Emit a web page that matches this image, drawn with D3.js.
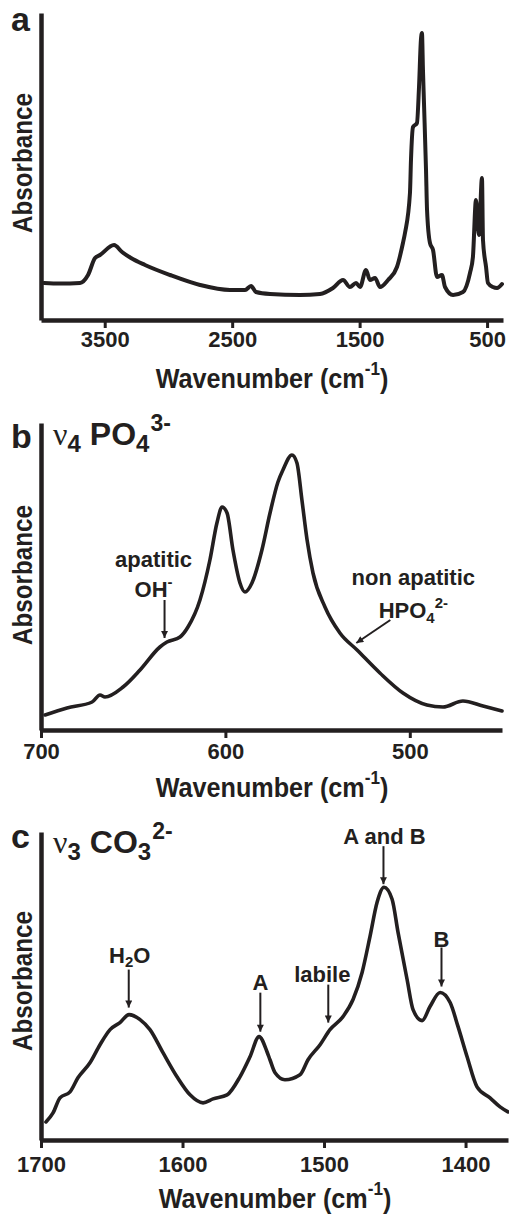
<!DOCTYPE html>
<html>
<head>
<meta charset="utf-8">
<script src="https://cdn.jsdelivr.net/npm/d3@7"></script>
<style>
  body { margin: 0; background: #fff; }
  text { font-family: Arial, "Liberation Sans", Helvetica, sans-serif; font-weight: bold; fill: #231f20; }
</style>
</head>
<body>
<svg id="chart" width="509" height="1214"></svg>
<script>
// ---- data ----
// (a) full spectrum
const wnA = [3976, 3851, 3694, 3631, 3576, 3537, 3427, 3364, 3294, 3184, 2988, 2752, 2517, 2399, 2352,
  2313, 2203, 1968, 1811, 1709, 1630, 1576, 1528, 1497, 1450, 1419, 1379, 1340, 1277, 1207,
  1160, 1144, 1105, 1097, 1081, 1050, 1034, 1019, 1011, 1003, 995, 979, 971, 948, 924,
  893, 854, 830, 767, 689, 634, 611, 587, 564, 540, 532, 508, 493, 454, 422, 383];
const absA = [0.37, 0.365, 0.37, 0.45, 0.62, 0.65, 0.75, 0.68, 0.62, 0.55, 0.45, 0.35, 0.30, 0.30, 0.34,
  0.28, 0.26, 0.25, 0.26, 0.32, 0.40, 0.33, 0.37, 0.33, 0.50, 0.40, 0.42, 0.33, 0.40, 0.53,
  0.77, 0.87, 1.27, 1.60, 1.93, 1.97, 2.33, 2.80, 2.87, 2.50, 2.17, 1.50, 1.10, 0.77, 0.70,
  0.43, 0.45, 0.33, 0.25, 0.28, 0.47, 0.63, 1.20, 0.85, 1.42, 0.80, 0.53, 0.37, 0.33, 0.32, 0.36];
const ticksA = [3500, 2500, 1500, 500];

// (b) v4 PO4 region
const wnB = [697.8, 685.9, 672.3, 668.0, 665.3, 655.5, 646.3, 635.5, 631.7, 624.6, 620.3, 613.8, 608.4,
  604.6, 601.8, 599.1, 595.9, 592.1, 589.4, 585.6, 580.2, 575.8, 571.5, 568.8, 563.9, 561.2,
  558.5, 555.7, 552.5, 546.0, 537.9, 528.6, 516.2, 503.7, 490.7, 482.0, 471.2, 460.3, 450.0];
const absB = [0.15, 0.22, 0.28, 0.35, 0.33, 0.43, 0.60, 0.83, 0.88, 0.93, 1.03, 1.30, 1.70,
  2.07, 2.23, 2.17, 1.80, 1.47, 1.38, 1.47, 1.80, 2.17, 2.48, 2.60, 2.75, 2.67,
  2.30, 1.90, 1.57, 1.23, 0.97, 0.80, 0.57, 0.37, 0.25, 0.23, 0.29, 0.24, 0.19];
const ticksB = [700, 600, 500];

// (c) v3 CO3 region
const wnC = [1696.5, 1691.5, 1686.6, 1679.5, 1673.9, 1665.4, 1658.3, 1651.2, 1644.2, 1637.8,
  1630.0, 1623.0, 1613.8, 1603.9, 1594.7, 1585.5, 1578.4, 1568.5, 1559.4, 1552.3,
  1545.9, 1540.3, 1538.2, 1534.6, 1527.6, 1517.0, 1511.3, 1502.8, 1495.8, 1486.6,
  1479.5, 1473.1, 1467.5, 1462.5, 1457.6, 1451.9, 1447.7, 1441.3, 1437.1, 1430.7,
  1425.1, 1418.0, 1410.9, 1405.3, 1398.9, 1391.9, 1382.7, 1375.6, 1370.0];
const absC = [0.18, 0.27, 0.42, 0.48, 0.62, 0.77, 0.95, 1.10, 1.17, 1.25,
  1.20, 1.10, 0.87, 0.63, 0.45, 0.37, 0.41, 0.45, 0.63, 0.83,
  1.03, 0.88, 0.80, 0.67, 0.60, 0.65, 0.80, 0.95, 1.10, 1.23,
  1.40, 1.67, 2.03, 2.37, 2.52, 2.40, 2.07, 1.60, 1.30, 1.19,
  1.33, 1.47, 1.37, 1.13, 0.83, 0.53, 0.42, 0.33, 0.28];
const ticksC = [1700, 1600, 1500, 1400];

// annotations: arrow tip at [wavenumber, absorbance], tail offset in px
const notesB = [
  { lines: [[['apatitic', 'n']], [['OH', 'n'], ['-', 'sup']]], tip: [633, 0.92], dx: -11, tail: [0, -38], gap: 3, lead: 30 },
  { lines: [[['non apatitic', 'n']], [['HPO', 'n'], ['4', 'sub'], ['2-', 'sup']]], tip: [529, 0.87], dx: 23, tail: [34, -23], gap: 2, lead: 33 }
];
const notesC = [
  { lines: [[['H', 'n'], ['2', 'sub'], ['O', 'n']]], tip: [1638, 1.32], dx: 1, tail: [0, -38], gap: 7 },
  { lines: [[['A', 'n']]], tip: [1545, 1.08], dx: 0, tail: [0, -39], gap: 3 },
  { lines: [[['labile', 'n']]], tip: [1497, 1.17], dx: -6, tail: [0, -38], gap: 3 },
  { lines: [[['A and B', 'n']]], tip: [1458, 2.55], dx: 1, tail: [0, -38], gap: 2 },
  { lines: [[['B', 'n']]], tip: [1417, 1.53], dx: 0, tail: [0, -39], gap: 1 }
];

const ink = '#231f20';
const svg = d3.select('#chart');

svg.append('defs').append('marker')
  .attr('id', 'arrow')
  .attr('viewBox', '0 0 10 10')
  .attr('refX', 10).attr('refY', 5)
  .attr('markerWidth', 9).attr('markerHeight', 7)
  .attr('markerUnits', 'userSpaceOnUse')
  .attr('orient', 'auto')
  .append('path').attr('d', 'M0,0L10,5L0,10z').attr('fill', ink);

// write text with sub/superscripts
function rich(sel, parts, size) {
  let cur = 0;
  parts.forEach(([s, k]) => {
    const off = k === 'sub' ? size * 0.22 : k === 'sup' ? -size * 0.45 : 0;
    sel.append('tspan')
      .attr('dy', off - cur)
      .attr('font-size', k === 'n' ? size : size * 0.68)
      .text(s);
    cur = off;
  });
}

const panels = [
  { letter: 'a', wn: wnA, ab: absA, domain: [4000, 375], ticks: ticksA, left: 41, right: 503,
    top: 13, bottom: 320, pad: 3, labelX: 272, labelY: 388, absY: 163, letterY: 31, width: 4 },
  { letter: 'b', wn: wnB, ab: absB, domain: [700, 450], ticks: ticksB, left: 41, right: 502,
    top: 423, bottom: 730, pad: 5, labelX: 272, labelY: 797, absY: 575, letterY: 448, width: 3.6,
    title: ['4', 'PO', '4', '3-'], titleY: 445, notes: notesB },
  { letter: 'c', wn: wnC, ab: absC, domain: [1700, 1370], ticks: ticksC, left: 41, right: 508,
    top: 832, bottom: 1140, pad: 8, labelX: 275, labelY: 1208, absY: 981, letterY: 848, width: 3.6,
    title: ['3', 'CO', '3', '2-'], titleY: 853, notes: notesC }
];

panels.forEach(p => {
  const g = svg.append('g');
  const x = d3.scaleLinear().domain(p.domain).range([p.left, p.right]);
  const y = d3.scaleLinear().domain([0, 3.07]).range([p.bottom, p.top]);

  // x axis
  const xa = g.append('g')
    .attr('transform', `translate(0,${p.bottom})`)
    .call(d3.axisBottom(x).tickValues(p.ticks).tickSize(8).tickSizeOuter(0).tickPadding(p.pad).tickFormat(d3.format('d')));
  xa.select('.domain').attr('stroke', ink).attr('stroke-width', 4.5);
  xa.selectAll('.tick line').attr('stroke', ink).attr('stroke-width', 3);
  xa.selectAll('.tick text').attr('font-size', 22).attr('font-family', null).attr('fill', ink);

  // y axis (no ticks)
  const ya = g.append('g')
    .attr('transform', `translate(${p.left},0)`)
    .call(d3.axisLeft(y).tickValues([]).tickSizeOuter(0));
  ya.select('.domain').attr('stroke', ink).attr('stroke-width', 4.5);

  // spectrum
  const pts = p.wn.map((w, i) => [w, p.ab[i]]);
  g.append('path')
    .datum(pts)
    .attr('fill', 'none')
    .attr('stroke', ink)
    .attr('stroke-width', p.width)
    .attr('stroke-linejoin', 'round')
    .attr('stroke-linecap', 'round')
    .attr('d', d3.line().x(d => x(d[0])).y(d => y(d[1])).curve(d3.curveMonotoneX));

  // axis titles
  const xl = g.append('text')
    .attr('transform', `translate(${p.labelX},${p.labelY}) scale(0.9,1)`)
    .attr('text-anchor', 'middle');
  rich(xl, [['Wavenumber (cm', 'n'], ['-1', 'sup'], [')', 'n']], 28);

  g.append('text')
    .attr('transform', `translate(22,${p.absY}) rotate(-90) scale(0.865,1)`)
    .attr('text-anchor', 'middle')
    .attr('dy', '0.36em')
    .attr('font-size', 28)
    .text('Absorbance');

  // panel letter
  g.append('text')
    .attr('x', 11).attr('y', p.letterY)
    .attr('font-size', 34)
    .text(p.letter);

  // band title
  if (p.title) {
    const t = g.append('text').attr('x', 53).attr('y', p.titleY);
    t.append('tspan').attr('font-family', '"Liberation Serif", "DejaVu Serif", serif')
      .attr('font-weight', 'normal').attr('font-size', 32).text('\u03bd');
    t.append('tspan').attr('font-size', 24).attr('dy', 7).text(p.title[0]);
    t.append('tspan').attr('font-size', 32).attr('dy', -7).attr('dx', 9).text(p.title[1]);
    t.append('tspan').attr('font-size', 24).attr('dy', 7).text(p.title[2]);
    t.append('tspan').attr('font-size', 23).attr('dy', -21).attr('dx', 1).text(p.title[3]);
  }

  // annotations
  (p.notes || []).forEach(n => {
    const tx = x(n.tip[0]), ty = y(n.tip[1]);
    const sx = tx + n.tail[0], sy = ty + n.tail[1];
    g.append('line')
      .attr('x1', sx).attr('y1', sy).attr('x2', tx).attr('y2', ty)
      .attr('stroke', ink).attr('stroke-width', 2)
      .attr('marker-end', 'url(#arrow)');
    const cx = sx + n.dx;
    n.lines.slice().reverse().forEach((ln, i) => {
      const t = g.append('text')
        .attr('x', cx).attr('y', sy - n.gap - i * (n.lead || 30))
        .attr('text-anchor', 'middle');
      rich(t, ln, 22);
    });
  });
});
</script>
</body>
</html>
